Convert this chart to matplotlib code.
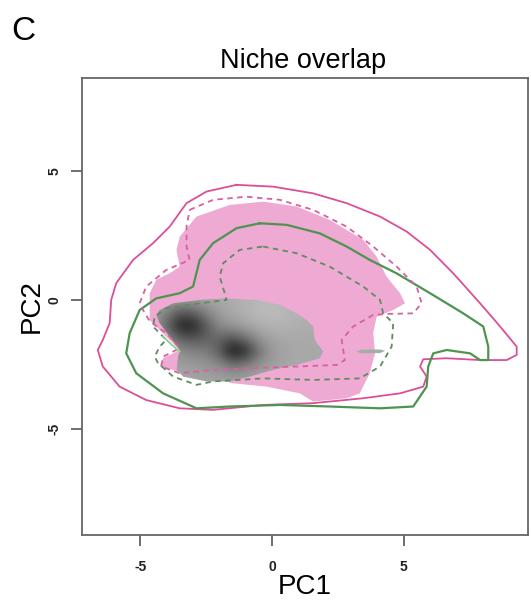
import matplotlib
matplotlib.use("Agg")
import matplotlib.pyplot as plt
import numpy as np
from matplotlib.patches import Polygon

plt.rcParams['font.family'] = ['Liberation Sans', 'DejaVu Sans']
plt.rcParams['axes.unicode_minus'] = False

# contours (PC1, PC2)
pink_outer = [(-1.35, 4.46), (0.04, 4.39), (1.56, 4.13), (2.83, 3.75), (4.10, 3.23), (5.11, 2.65),
              (6.0, 1.94), (6.88, 1.03), (7.90, -0.13), (8.66, -1.03), (9.29, -1.81), (9.29, -2.13),
              (8.91, -2.33), (7.90, -2.33), (6.63, -2.26), (5.74, -2.30), (5.62, -2.58), (5.87, -2.97),
              (5.74, -3.36), (4.86, -3.62), (3.46, -3.81), (1.56, -4.0), (-0.34, -4.07), (-2.24, -4.26),
              (-3.51, -4.20), (-4.78, -3.88), (-5.79, -3.36), (-6.43, -2.58), (-6.62, -1.94), (-6.43, -1.55),
              (-6.17, -0.90), (-6.11, 0.0), (-5.92, 0.65), (-5.28, 1.55), (-4.52, 2.20), (-3.89, 2.84),
              (-3.25, 3.75), (-2.49, 4.20)]

pink_inner = [(-3.13, 3.49), (-2.24, 3.88), (-0.97, 4.0), (0.29, 3.88), (1.56, 3.49), (2.83, 2.84),
              (3.84, 2.07), (4.73, 1.29), (5.49, 0.52), (5.68, -0.13), (5.36, -0.52), (4.48, -0.54),
              (3.84, -0.58), (3.08, -1.03), (2.64, -1.55), (2.76, -2.33), (2.45, -2.52), (0.93, -2.58),
              (-0.97, -2.65), (-2.24, -2.71), (-3.51, -2.84), (-4.21, -2.58), (-4.14, -2.2), (-3.51, -1.87),
              (-4.0, -1.3), (-4.64, -0.84), (-4.90, -0.39), (-5.03, -0.13), (-4.78, 0.52), (-4.02, 1.16),
              (-3.13, 1.55), (-3.25, 2.07), (-3.25, 2.84)]

green_outer = [(-0.47, 2.97), (0.55, 2.91), (1.81, 2.58), (2.83, 2.07), (3.71, 1.55), (4.73, 1.03),
               (6.0, 0.26), (7.26, -0.52), (8.02, -1.03), (8.21, -1.81), (8.21, -2.33), (7.90, -2.33),
               (7.52, -2.07), (6.63, -1.94), (6.12, -2.07), (5.93, -2.58), (5.87, -3.36), (5.36, -4.13),
               (4.10, -4.20), (2.19, -4.13), (0.29, -4.07), (-1.61, -4.13), (-2.87, -4.20), (-4.14, -3.62),
               (-5.16, -2.84), (-5.54, -2.07), (-5.41, -1.29), (-5.03, -0.39), (-4.40, 0.06), (-3.51, 0.26),
               (-3.0, 0.52), (-2.75, 1.55), (-2.24, 2.20), (-1.35, 2.78)]

green_inner = [(-0.34, 2.07), (0.93, 1.81), (2.19, 1.29), (3.46, 0.52), (4.10, 0.0), (4.22, -0.52),
               (4.60, -0.90), (4.54, -1.81), (4.10, -2.58), (3.33, -3.04), (1.56, -3.10), (-0.34, -3.04),
               (-2.24, -3.16), (-2.87, -3.29), (-3.76, -2.97), (-4.33, -2.45), (-4.46, -2.20), (-4.27, -1.81),
               (-4.02, -1.55), (-4.52, -1.03), (-4.46, -0.65), (-4.02, -0.32), (-2.75, -0.13), (-1.73, 0.0),
               (-1.80, 0.26), (-1.99, 0.90), (-1.86, 1.42), (-1.23, 1.94)]

pink_area = [(-3.51, 2.45), (-2.87, 3.23), (-1.61, 3.68), (-0.34, 3.81), (0.93, 3.62), (2.19, 3.10),
             (3.46, 2.33), (3.97, 1.68), (4.35, 0.90), (4.86, 0.26), (5.05, -0.13), (4.60, -0.39),
             (3.97, -0.65), (3.84, -1.29), (3.91, -2.07), (3.71, -2.84), (3.33, -3.62), (2.83, -3.81),
             (1.56, -3.94), (1.05, -3.62), (-0.21, -3.36), (-1.48, -3.23), (-2.49, -2.97), (-3.51, -2.78),
             (-4.27, -2.58), (-4.14, -2.26), (-3.51, -1.94), (-4.65, -0.78), (-4.65, 0.26), (-4.40, 0.78),
             (-3.89, 1.03), (-3.51, 1.29), (-3.63, 1.94)]

grey_area = [(-4.27, -0.39), (-3.76, -0.13), (-2.75, 0.0), (-1.86, 0.06), (-0.59, 0.0), (0.29, -0.19),
             (0.93, -0.52), (1.31, -0.78), (1.56, -1.03), (1.62, -1.55), (1.94, -2.0), (1.81, -2.26),
             (0.93, -2.52), (0.04, -2.71), (-0.85, -2.97), (-1.61, -3.16), (-2.49, -3.16), (-3.38, -2.97),
             (-3.63, -2.71), (-3.57, -2.20), (-3.51, -1.94), (-3.89, -1.42), (-4.27, -0.90), (-4.40, -0.58)]

small_blob = [(3.2, -2.0), (3.4, -1.93), (4.1, -1.92), (4.3, -1.97), (4.1, -2.06), (3.4, -2.07)]

green_edge = [(-4.14, -1.42), (-3.85, -1.70), (-3.51, -2.0)]

# density (grey level, 0 = black) on a coarse grid
dens_x = [-4.5, -4.0, -3.5, -3.0, -2.5, -2.0, -1.5, -1.0, -0.5, 0.0, 0.5, 1.0, 1.5, 2.0]
dens_y = [0.5, 0.0, -0.5, -1.0, -1.5, -2.0, -2.5, -3.0, -3.5]
dens = [
    [.68, .68, .68, .68, .68, .68, .68, .68, .70, .70, .68, .68, .68, .68],
    [.66, .65, .62, .62, .64, .66, .68, .70, .72, .72, .70, .68, .68, .68],
    [.62, .50, .35, .38, .52, .62, .66, .70, .73, .74, .72, .70, .68, .68],
    [.60, .40, .10, .12, .35, .55, .60, .64, .68, .70, .70, .68, .68, .68],
    [.62, .55, .38, .33, .38, .40, .32, .45, .58, .64, .66, .66, .66, .66],
    [.64, .62, .55, .52, .50, .35, .05, .15, .45, .60, .64, .66, .66, .66],
    [.66, .65, .62, .60, .58, .55, .45, .50, .58, .63, .65, .66, .66, .66],
    [.66, .66, .65, .64, .63, .62, .60, .62, .64, .65, .66, .66, .66, .66],
    [.66, .66, .66, .66, .66, .66, .66, .66, .66, .66, .66, .66, .66, .66],
]

pink_line = "#DC4F96"
pink_fill = "#EEAAD2"
green_line = "#4E9450"

fig = plt.figure(figsize=(5.31, 6.0), dpi=100)
ax = fig.add_axes([0.1544, 0.1083, 0.8400, 0.7617])

ax.add_patch(Polygon(pink_area, closed=True, facecolor=pink_fill, edgecolor="none", zorder=1))

grey_patch = Polygon(grey_area, closed=True, facecolor="none", edgecolor="none")
ax.add_patch(grey_patch)
half_x = (dens_x[1] - dens_x[0]) / 2
half_y = (dens_y[0] - dens_y[1]) / 2
im = ax.imshow(np.array(dens), cmap="gray", vmin=0, vmax=1, interpolation="bicubic",
               extent=[dens_x[0] - half_x, dens_x[-1] + half_x, dens_y[-1] - half_y, dens_y[0] + half_y],
               origin="upper", aspect="auto", zorder=2)
im.set_clip_path(grey_patch)

ax.add_patch(Polygon(small_blob, closed=True, facecolor="#A3AFA3", edgecolor="none", zorder=2))


def draw(pts, color, ls, lw):
    p = np.array(pts + [pts[0]])
    ax.plot(p[:, 0], p[:, 1], color=color, ls=ls, lw=lw, zorder=3,
            solid_joinstyle="round", dash_joinstyle="round")


draw(pink_outer, pink_line, "-", 1.3)
draw(green_outer, green_line, "-", 1.6)
draw(pink_inner, "#D8609E", (0, (3, 2.5)), 1.3)
draw(green_inner, "#5E8C60", (0, (3, 2.5)), 1.3)
ge = np.array(green_edge)
ax.plot(ge[:, 0], ge[:, 1], color="#8ED38E", lw=1.4, zorder=3)

ax.set_xlim(-7.22, 9.72)
ax.set_ylim(-9.11, 8.60)
ax.set_xticks([-5, 0, 5])
ax.set_yticks([-5, 0, 5])
ax.tick_params(axis="both", direction="out", length=8, width=1.2, color="#555555", labelsize=10)
ax.tick_params(axis="x", pad=10)
ax.tick_params(axis="y", pad=7)
for lab in ax.get_xticklabels() + ax.get_yticklabels():
    lab.set_fontweight("bold")
    lab.set_color("#222222")
for lab in ax.get_yticklabels():
    lab.set_rotation(90)
    lab.set_va("center")
for s in ax.spines.values():
    s.set_color("#666666")
    s.set_linewidth(1.3)

ax.set_xlabel("PC1", fontsize=20, labelpad=0)
ax.set_ylabel("PC2", fontsize=20, labelpad=2)

fig.text(0.57, 0.886, "Niche overlap", ha="center", va="baseline", fontsize=19.5)
fig.text(0.022, 0.948, "C", ha="left", va="center", fontsize=24)

fig.savefig("out.png", dpi=100)
plt.close(fig)
